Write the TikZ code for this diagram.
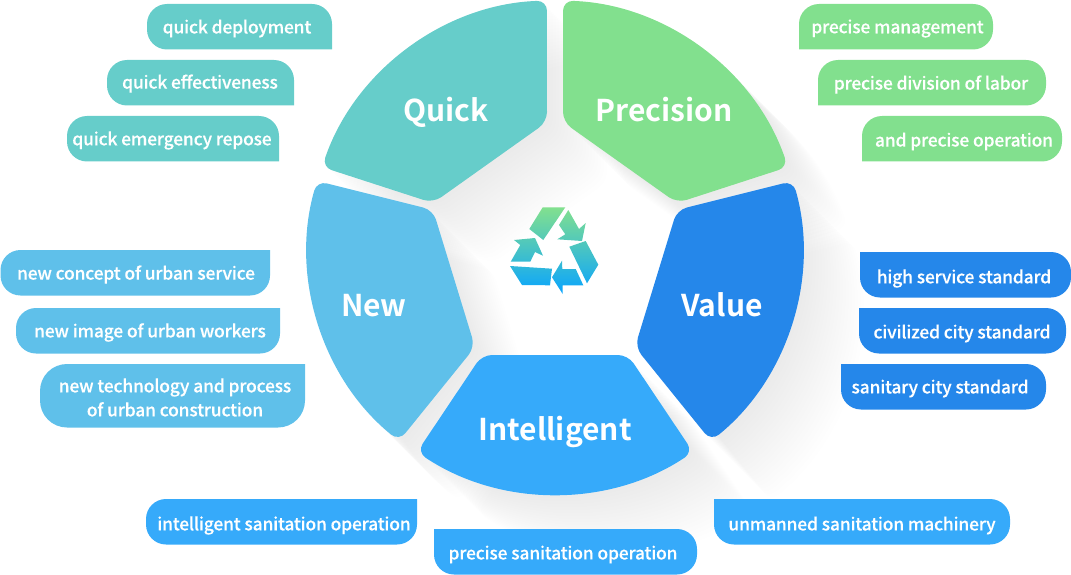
\documentclass[tikz,border=0pt]{standalone}
\usepackage{fontspec}
\setmainfont{Noto Sans CJK SC}[UprightFont=* Medium,BoldFont=* Bold]
\newfontfamily\labfont{Noto Sans CJK SC Medium}[LetterSpace=-1.2,FakeBold=0.12]
\definecolor{cq}{HTML}{66CDCA}
\definecolor{cp}{HTML}{82E08E}
\definecolor{cv}{HTML}{2587EA}
\definecolor{cn}{HTML}{5FC0EA}
\definecolor{ci}{HTML}{36AAFA}
\definecolor{ciconb}{HTML}{08A4FF}
\newcommand{\pQuick}{(547,122) -- (433,203) -- (322,167) arc[start angle=199,end angle=268,radius=247] -- cycle}
\newcommand{\pPrec}{(563,122) -- (677,203) -- (788,167) arc[start angle=-19,end angle=-88,radius=247] -- cycle}
\newcommand{\pValue}{(677,210) -- (635,347) -- (711,441) arc[start angle=51,end angle=-16,radius=247] -- cycle}
\newcommand{\pNew}{(433,210) -- (475,347) -- (399,441) arc[start angle=129,end angle=196,radius=247] -- cycle}
\newcommand{\pIntel}{(482,355) -- (628,355) -- (693,452) arc[start angle=56.2,end angle=123.8,radius=248] -- cycle}
\tikzset{
  title/.style={text=white,font=\bfseries\fontsize{30}{36}\selectfont,inner sep=0pt,anchor=base},
  labtext/.style={text=white,font=\labfont\fontsize{17.5}{24}\selectfont,align=center,inner sep=0pt,yshift=-1.5pt},
  shadowcopy/.style={fill=black,fill opacity=0.005,draw=none},
  piece/.style={rounded corners=10pt,draw=none}
}
% colour, square corner x y, opposite corner x y, radius
\newcommand{\tagshape}[6]{\fill[#1] (#2,#3) [rounded corners=#6pt] -- (#4,#3) -- (#4,#5) -- (#2,#5) -- (#2,#3);}
\begin{document}
\begin{tikzpicture}[x=1pt,y=1pt,yscale=-1]
\useasboundingbox (0,0) rectangle (1071,575);
\foreach \s in {3,6,...,60}{
  \begin{scope}[shift={(\s,\s)}]
  \fill[shadowcopy,piece] \pQuick;
  \fill[shadowcopy,piece] \pPrec;
  \fill[shadowcopy,piece] \pValue;
  \fill[shadowcopy,piece] \pNew;
  \fill[shadowcopy,piece] \pIntel;
  \end{scope}
}
\fill[cq,piece] \pQuick;
\fill[cp,piece] \pPrec;
\fill[cv,piece] \pValue;
\fill[cn,piece] \pNew;
\fill[ci,piece] \pIntel;
\node[title] (tq) at (446,122) {Quick};
\node[title] (tp) at (664,122) {Precision};
\node[title] (tv) at (722,316) {Value};
\node[title] (tn) at (374,316) {New};
\node[title] (ti) at (555,440) {Intelligent};
% recycling icon
\path[top color=cp,bottom color=ciconb]
 (542.7,207.3) -- (565.3,207.3) -- (543.3,240) -- (529.3,229) -- cycle
 (568.3,210) -- (579,229) -- (585.7,223) -- (582,241) -- (557.3,239.3) -- (565.3,234.3) -- (559,225) -- cycle
 (585.7,241) -- (598.3,264.7) -- (587,283.3) -- (569.3,246.7) -- cycle
 (562,260.7) -- (562.3,269) -- (575.7,269) -- (583.3,285.3) -- (562.7,285.3) -- (562.7,294) -- (552,277.3) -- cycle
 (510,266) -- (552,268.7) -- (550,285.3) -- (522,285) -- cycle
 (514,240) -- (535,238) -- (543,255.7) -- (535,252) -- (530.3,261.7) -- (510.7,261.7) -- (520.3,245) -- cycle;
% Quick tags
\tagshape{cq}{332}{49.5}{147}{4}{20}
\tagshape{cq}{294}{105.5}{107}{60}{20}
\tagshape{cq}{279}{161.5}{67}{116}{20}
\node[labtext] (q1) at (237,27) {quick deployment};
\node[labtext] (q2) at (200,82) {quick effectiveness};
\node[labtext] (q3) at (172,139) {quick emergency repose};
% Precision tags
\tagshape{cp}{799}{49.5}{993}{4}{20}
\tagshape{cp}{818}{105.5}{1046}{60}{20}
\tagshape{cp}{862}{161.5}{1062}{116}{20}
\node[labtext] (p1) at (897.5,27) {precise management};
\node[labtext] (p2) at (931,83) {precise division of labor};
\node[labtext] (p3) at (964,140) {and precise operation};
% Value tags
\tagshape{cv}{860}{252}{1071}{297.5}{20}
\tagshape{cv}{859}{308}{1066}{353.5}{20}
\tagshape{cv}{841}{364}{1046}{409.5}{20}
\node[labtext] (v1) at (964,277) {high service standard};
\node[labtext] (v2) at (962,332) {civilized city standard};
\node[labtext] (v3) at (940,387) {sanitary city standard};
% New tags
\tagshape{cn}{270}{250}{0.5}{295.5}{20}
\tagshape{cn}{280}{308}{16}{353.5}{20}
\tagshape{cn}{305}{364}{40}{427.5}{27}
\node[labtext] (n1) at (136,273) {new concept of urban service};
\node[labtext] (n2) at (150,331) {new image of urban workers};
\node[labtext] (n3) at (175,396) {new technology and process\\of urban construction};
% Intelligent tags
\tagshape{ci}{417}{499}{146}{544.5}{20}
\tagshape{ci}{434}{529}{697}{574.5}{20}
\tagshape{ci}{714}{499}{1010}{544.5}{20}
\node[labtext] (i1) at (284,524) {intelligent sanitation operation};
\node[labtext] (i2) at (563,553) {precise sanitation operation};
\node[labtext] (i3) at (862,524) {unmanned sanitation machinery};
\end{tikzpicture}
\end{document}
